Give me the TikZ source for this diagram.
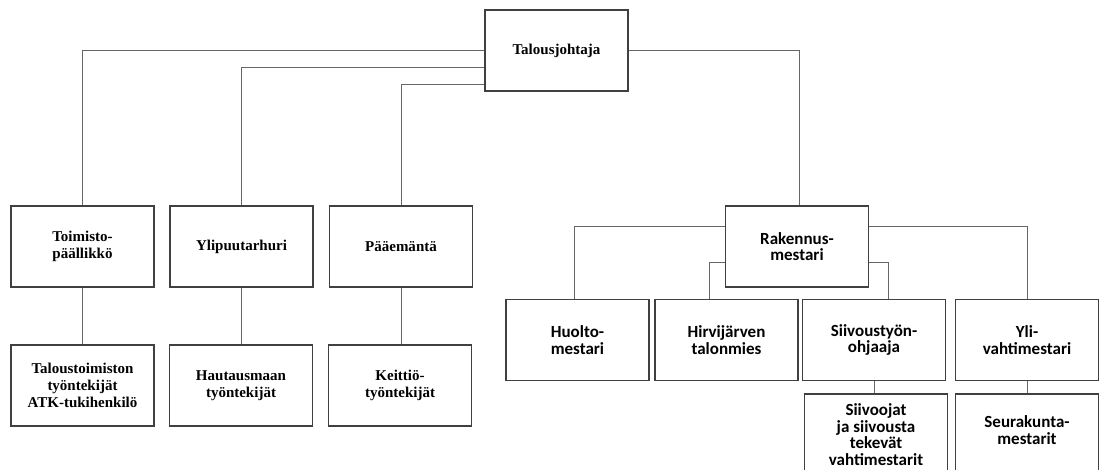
\documentclass[tikz,border=0pt]{standalone}
\usepackage{fontspec}
\setmainfont{Liberation Serif}
\newfontfamily\rfont{Carlito}
\usetikzlibrary{positioning}

\begin{document}
\begin{tikzpicture}[
  x=1pt, y=-1pt,
  box/.style={draw=black!75, line width=1.1pt, minimum width=143pt, minimum height=81pt,
    inner sep=2pt, align=center},
  lbox/.style={box, font=\fontsize{15}{17}\selectfont\bfseries},
  rbox/.style={box, font=\rfont\fontsize{17}{16.8}\selectfont\bfseries},
  link/.style={draw=black!60, line width=1pt}
]
\useasboundingbox (0,0) rectangle (1099,470);
\clip (0,0) rectangle (1099,470);

% top
\node[lbox] (tj) at (556.5, 50.5) {Talousjohtaja};

% left branch
\node[lbox] (toim) at (82.5, 246.5) {Toimisto-\\päällikkö};
\node[lbox] (ylip) at (241.5, 246.5) {Ylipuutarhuri};
\node[lbox] (paae) at (401, 246.5) {Pääemäntä};
\node[lbox] (talt) at (82.5, 385.5) {Taloustoimiston\\työntekijät\\ATK-tukihenkilö};
\node[lbox] (haut) at (241, 385.5) {Hautausmaan\\työntekijät};
\node[lbox] (keit) at (400, 385.5) {Keittiö-\\työntekijät};

% right branch
\node[rbox] (rak) at (797, 246.5) {Rakennus-\\mestari};
\node[rbox] (huol) at (577.5, 340) {Huolto-\\mestari};
\node[rbox] (hirv) at (726.5, 340) {Hirvijärven\\talonmies};
\node[rbox] (siiv) at (874, 340) {Siivoustyön-\\ohjaaja};
\node[rbox] (yli) at (1027, 340) {Yli-\\vahtimestari};
\node[rbox] (siivo) at (876, 434.5) {Siivoojat\\ja siivousta\\tekevät\\vahtimestarit};
\node[rbox] (seur) at (1027, 434.5) {Seurakunta-\\mestarit\\[-8pt]};

% connectors from the top
\draw[link] (tj.west) -| (toim.north);
\draw[link] ([yshift=-17pt]tj.west) -| (ylip.north);
\draw[link] ([yshift=-34pt]tj.west) -| (paae.north);
\draw[link] (tj.east) -| ([xshift=2pt]rak.north);

\draw[link] (toim.south) -- (talt.north);
\draw[link] (ylip.south) -- (ylip.south |- haut.north);
\draw[link] (paae.south) -- (paae.south |- keit.north);

% connectors from Rakennusmestari
\draw[link] ([yshift=20pt]rak.west) -| ([xshift=-3pt]huol.north);
\draw[link] ([yshift=-16pt]rak.west) -| ([xshift=-17pt]hirv.north);
\draw[link] ([yshift=-16pt]rak.east) -| ([xshift=14pt]siiv.north);
\draw[link] ([yshift=20pt]rak.east) -| (yli.north);

\draw[link] (siiv.south) -- (siiv.south |- siivo.north);
\draw[link] (yli.south) -- (seur.north);
\end{tikzpicture}
\end{document}
